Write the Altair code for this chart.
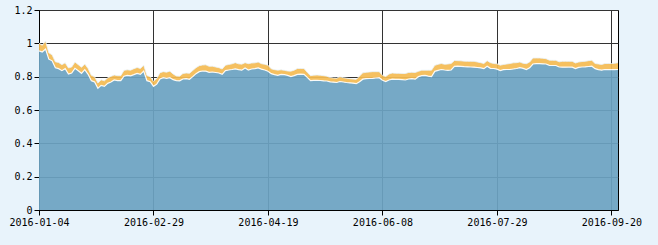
import altair as alt
import pandas as pd

tick_labels = ["2016-01-04", "2016-02-29", "2016-04-19", "2016-06-08", "2016-07-29", "2016-09-20"]
tick_index = [0, 35, 70, 105, 140, 175]
y_ticks = [0, 0.2, 0.4, 0.6, 0.8, 1.0, 1.2]

base_values = [
    0.955, 0.948, 0.966, 0.905, 0.895, 0.853, 0.848, 0.836, 0.848, 0.816,
    0.822, 0.850, 0.836, 0.820, 0.842, 0.814, 0.776, 0.768, 0.730, 0.748,
    0.742, 0.760, 0.768, 0.780, 0.776, 0.776, 0.803, 0.808, 0.805, 0.812,
    0.820, 0.814, 0.833, 0.776, 0.770, 0.742, 0.755, 0.786, 0.794, 0.790,
    0.794, 0.782, 0.776, 0.775, 0.786, 0.788, 0.784, 0.800, 0.818, 0.830,
    0.834, 0.833, 0.826, 0.828, 0.825, 0.822, 0.814, 0.836, 0.840, 0.843,
    0.847, 0.842, 0.839, 0.852, 0.840, 0.846, 0.848, 0.853, 0.845, 0.840,
    0.833, 0.818, 0.812, 0.808, 0.814, 0.812, 0.808, 0.801, 0.806, 0.814,
    0.815, 0.814, 0.796, 0.776, 0.778, 0.778, 0.777, 0.775, 0.774, 0.769,
    0.767, 0.765, 0.771, 0.768, 0.765, 0.763, 0.761, 0.758, 0.770, 0.785,
    0.788, 0.789, 0.790, 0.792, 0.794, 0.778, 0.771, 0.780, 0.785, 0.784,
    0.784, 0.782, 0.780, 0.786, 0.788, 0.785, 0.800, 0.806, 0.808, 0.803,
    0.800, 0.832, 0.838, 0.843, 0.840, 0.838, 0.840, 0.862, 0.863, 0.862,
    0.860, 0.859, 0.858, 0.857, 0.855, 0.853, 0.848, 0.862, 0.850, 0.849,
    0.845, 0.837, 0.842, 0.843, 0.843, 0.846, 0.849, 0.854, 0.850, 0.843,
    0.853, 0.876, 0.878, 0.878, 0.877, 0.876, 0.868, 0.867, 0.867, 0.858,
    0.857, 0.857, 0.858, 0.857, 0.849, 0.856, 0.858, 0.859, 0.861, 0.863,
    0.848, 0.842, 0.839, 0.843, 0.842, 0.843, 0.842, 0.843,
]

band_values = [
    0.046, 0.040, 0.048, 0.038, 0.036, 0.036, 0.037, 0.036, 0.035, 0.036,
    0.036, 0.038, 0.036, 0.036, 0.034, 0.035, 0.032, 0.032, 0.032, 0.033,
    0.033, 0.033, 0.034, 0.030, 0.030, 0.030, 0.035, 0.033, 0.034, 0.036,
    0.035, 0.035, 0.036, 0.031, 0.030, 0.030, 0.034, 0.038, 0.036, 0.037,
    0.039, 0.034, 0.028, 0.028, 0.033, 0.034, 0.036, 0.037, 0.036, 0.036,
    0.036, 0.038, 0.036, 0.035, 0.033, 0.032, 0.032, 0.033, 0.033, 0.034,
    0.037, 0.035, 0.036, 0.032, 0.038, 0.036, 0.035, 0.035, 0.033, 0.034,
    0.036, 0.029, 0.030, 0.031, 0.027, 0.026, 0.026, 0.032, 0.033, 0.035,
    0.034, 0.035, 0.030, 0.030, 0.031, 0.032, 0.031, 0.031, 0.029, 0.026,
    0.025, 0.026, 0.029, 0.026, 0.026, 0.025, 0.025, 0.026, 0.034, 0.038,
    0.038, 0.039, 0.040, 0.038, 0.036, 0.030, 0.030, 0.036, 0.037, 0.036,
    0.036, 0.037, 0.039, 0.039, 0.038, 0.040, 0.032, 0.033, 0.031, 0.036,
    0.039, 0.036, 0.036, 0.036, 0.034, 0.038, 0.039, 0.035, 0.033, 0.033,
    0.033, 0.033, 0.034, 0.035, 0.033, 0.031, 0.031, 0.034, 0.034, 0.030,
    0.032, 0.032, 0.031, 0.033, 0.036, 0.037, 0.035, 0.034, 0.030, 0.035,
    0.035, 0.036, 0.034, 0.034, 0.033, 0.032, 0.031, 0.031, 0.031, 0.031,
    0.035, 0.035, 0.034, 0.035, 0.033, 0.032, 0.033, 0.033, 0.035, 0.035,
    0.031, 0.034, 0.034, 0.036, 0.037, 0.036, 0.038, 0.041,
]

n = len(base_values)
df = pd.DataFrame({"i": list(range(n)), "base": base_values, "band": band_values[:n]})
df["top"] = df["base"] + df["band"]

label_expr = "[" + ",".join("'%s'" % s for s in tick_labels) + "][round(datum.value / 35)]"

x_scale = alt.Scale(domain=[0, n - 1], nice=False, zero=False)
x_axis = alt.Axis(values=tick_index, labelExpr=label_expr, title=None,
                  labelFlush=False, labelOverlap=False, grid=True)
y_scale = alt.Scale(domain=[0, 1.2], nice=False)
y_axis = alt.Axis(values=y_ticks, format="~g", title=None, grid=True,
                  labelOverlap=False, labelFlush=False, tickCount=7)


def X():
    return alt.X("i:Q", scale=x_scale, axis=x_axis)


def Y(field):
    return alt.Y(field, scale=y_scale, axis=y_axis)


base = alt.Chart(df)

blue = base.mark_area(color="#6ca3c2", opacity=0.93).encode(
    x=X(), y=Y("base:Q")
)
orange = base.mark_area(color="#f4bb54", opacity=0.93).encode(
    x=X(), y=Y("top:Q"), y2="base:Q"
)
line_base = base.mark_line(color="#ffffff", strokeWidth=1.2, opacity=0.9).encode(
    x=X(), y=Y("base:Q")
)
line_top = base.mark_line(color="#eaf4fb", strokeWidth=1.0, opacity=0.8).encode(
    x=X(), y=Y("top:Q")
)

chart = alt.layer(blue, orange, line_base, line_top).properties(
    width=579,
    height=200,
    autosize=alt.AutoSizeParams(type="none"),
    padding={"left": 39, "top": 10, "right": 40, "bottom": 35},
    background="#e8f3fb",
).configure_view(
    fill="#ffffff", stroke="#000000", strokeWidth=1
).configure_axis(
    gridColor="#333333", gridOpacity=1, gridWidth=1,
    domainColor="#000000", domainWidth=1,
    tickColor="#000000", tickSize=5, tickWidth=1,
    labelColor="#000000", labelFont="DejaVu Sans Mono", labelFontSize=10,
    labelPadding=2,
)

chart.save("out.html", embed_options={"renderer": "svg", "actions": False})
